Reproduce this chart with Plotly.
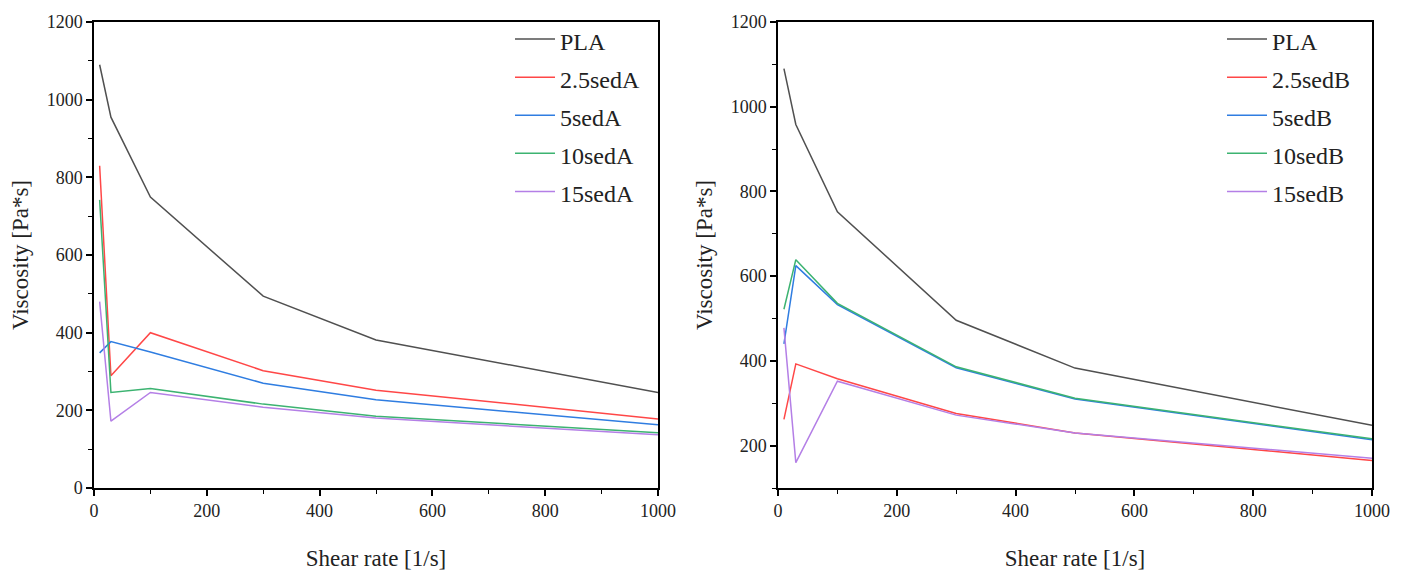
import plotly.graph_objects as go

shear_rate = [10, 30, 100, 300, 500, 1000]

names_a = ["PLA", "2.5sedA", "5sedA", "10sedA", "15sedA"]
visc_a = {
    "PLA":     [1090, 955, 749, 494, 381, 246],
    "2.5sedA": [830, 289, 400, 302, 252, 178],
    "5sedA":   [348, 377, 350, 270, 227, 163],
    "10sedA":  [742, 246, 256, 216, 185, 142],
    "15sedA":  [480, 172, 246, 208, 180, 137],
}

names_b = ["PLA", "2.5sedB", "5sedB", "10sedB", "15sedB"]
visc_b = {
    "PLA":     [1090, 958, 752, 496, 383, 248],
    "2.5sedB": [262, 393, 358, 276, 230, 165],
    "5sedB":   [440, 625, 533, 384, 310, 214],
    "10sedB":  [522, 639, 536, 386, 312, 216],
    "15sedB":  [478, 160, 352, 272, 230, 170],
}

colors = ["#505050", "#ff4747", "#2f7de1", "#3cb371", "#b47fe6"]

FONT = "Liberation Serif"
fig = go.Figure()

for i, n in enumerate(names_a):
    fig.add_trace(go.Scatter(
        x=shear_rate, y=visc_a[n], mode="lines",
        name=f'<span style="font-size:24px">{n}</span>',
        line=dict(color=colors[i], width=1.5),
        xaxis="x", yaxis="y", legend="legend"))

for i, n in enumerate(names_b):
    fig.add_trace(go.Scatter(
        x=shear_rate, y=visc_b[n], mode="lines",
        name=f'<span style="font-size:24px">{n}</span>',
        line=dict(color=colors[i], width=1.5),
        xaxis="x2", yaxis="y2", legend="legend2"))

W, H = 1408, 571
L, R = 94, 36
PW = W - L - R

axis_common = dict(
    showline=True, linecolor="black", linewidth=1.5, mirror=True,
    ticks="outside", ticklen=6, tickwidth=1.5, tickcolor="black",
    showgrid=False, zeroline=False, automargin=False,
    tickfont=dict(family=FONT, size=18, color="#222"),
    minor=dict(ticks="outside", ticklen=4, tickwidth=1.2, tickcolor="black", dtick=100),
)

title_font = dict(family=FONT, size=23, color="#222")

fig.update_layout(
    width=W, height=H,
    paper_bgcolor="white", plot_bgcolor="white",
    margin=dict(l=L, r=R, t=22, b=83),
    font=dict(family=FONT, color="#222"),
    xaxis=dict(domain=[0, (658 - L) / PW], range=[0, 1000], dtick=200,
               anchor="y",
               title=dict(text="Shear rate [1/s]", font=title_font, standoff=30),
               **axis_common),
    yaxis=dict(domain=[0, 1], range=[0, 1200], dtick=200, anchor="x",
               title=dict(text="Viscosity [Pa*s]", font=title_font, standoff=12),
               **axis_common),
    xaxis2=dict(domain=[(778 - L) / PW, 1], range=[0, 1000], dtick=200,
                anchor="y2",
                title=dict(text="Shear rate [1/s]", font=title_font, standoff=30),
                **axis_common),
    yaxis2=dict(domain=[0, 1], range=[100, 1200], tickvals=[200, 400, 600, 800, 1000, 1200],
                anchor="x2",
                title=dict(text="Viscosity [Pa*s]", font=title_font, standoff=12),
                **axis_common),
    legend=dict(x=(510 - L) / PW, y=1 + 7 / 466, xanchor="left", yanchor="top",
                xref="paper", yref="paper",
                font=dict(family=FONT, size=27, color="#222"),
                bgcolor="rgba(0,0,0,0)", itemwidth=40, tracegroupgap=0),
    legend2=dict(x=(1222 - L) / PW, y=1 + 7 / 466, xanchor="left", yanchor="top",
                 xref="paper", yref="paper",
                 font=dict(family=FONT, size=27, color="#222"),
                 bgcolor="rgba(0,0,0,0)", itemwidth=40, tracegroupgap=0),
    showlegend=True,
)

fig.write_html("out.html")
